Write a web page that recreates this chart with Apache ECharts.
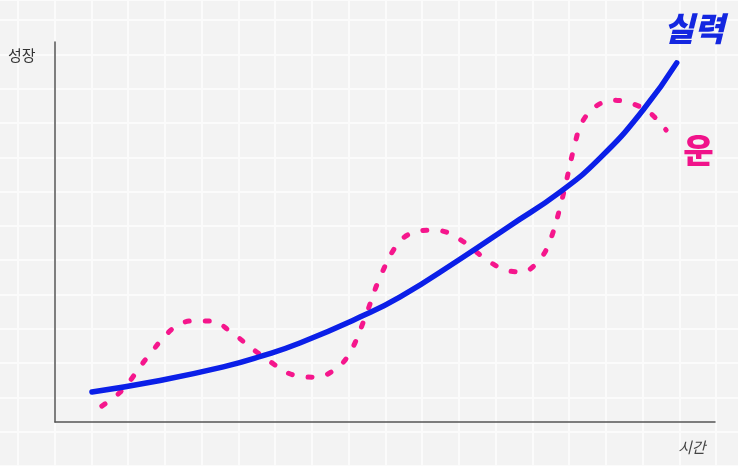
<!DOCTYPE html>
<html>
<head>
<meta charset="utf-8">
<script src="https://cdn.jsdelivr.net/npm/echarts@6/dist/echarts.min.js"></script>
<style>
html,body{margin:0;padding:0;background:#f3f3f3;}
#c{width:738px;height:466px;}
</style>
</head>
<body>
<div id="c"></div>
<script>
// Skill (실력): smooth exponential-like growth
var skillX = [5.6, 15.5, 25.5, 31.4, 37.1, 46.2, 52.3, 61.4, 68.9, 76.5, 82.6, 89.1, 94.2];
var skillY = [7.9, 10.8, 14.5, 17.4, 20.8, 27.6, 32.9, 42.9, 51.6, 60.5, 69.5, 82.1, 94.5];
// Luck (운): oscillating around skill
var luckX = [7.1, 10.2, 13.8, 17.9, 20.8, 23.8, 26.5, 31.4, 36.7, 39.7, 42.7, 44.7, 47.0, 49.2, 52.0, 54.5, 57.6, 60.6, 65.5, 68.2, 70.9, 73.5, 75.0, 76.8, 78.8, 79.8, 81.8, 84.5, 87.6, 90.2, 92.6];
var luckY = [4.2, 8.4, 16.6, 24.7, 26.6, 26.6, 23.9, 17.4, 12.1, 11.8, 14.2, 18.2, 27.6, 37.9, 47.1, 50.0, 50.5, 48.9, 42.6, 40.0, 39.5, 42.9, 47.6, 58.4, 73.4, 78.7, 82.9, 84.7, 83.7, 81.3, 76.8];
var xName = '시간';
var yName = '성장';
var skillName = '실력';
var luckName = '운';

function pairs(xs, ys){ return xs.map(function(x,i){ return [x, ys[i]]; }); }

var hidden = {axisLine:{show:false}, axisTick:{show:false}, axisLabel:{show:false}, splitLine:{show:false}};
function paperAxis(gi, max, show){
  return {gridIndex: gi, type:'value', min:0, max:max, interval:1, silent:true,
    axisLine:{show:false}, axisTick:{show:false}, axisLabel:{show:false},
    splitLine:{show:show, lineStyle:{color:'#fbfbfb', width:2}}};
}

var chart = echarts.init(document.getElementById('c'), null, {renderer:'canvas'});
chart.setOption({
  backgroundColor: '#f3f3f3',
  animation: false,
  textStyle: {fontFamily: '"Noto Sans CJK KR", "Noto Sans", sans-serif'},
  grid: [
    {left: 0, right: 0, top: 0, bottom: 0, show: false},
    {left: 18, width: 698, top: 0, bottom: 0, show: false},
    {left: 55, right: 23, top: 42, bottom: 44, show: false}
  ],
  xAxis: [
    paperAxis(0, 1, false),
    paperAxis(1, 19, true),
    Object.assign({gridIndex: 2, type: 'value', min: 0, max: 100}, hidden,
      {axisLine:{show:true, onZero:false, lineStyle:{color:'#555', width:1.5}}})
  ],
  yAxis: [
    paperAxis(0, 13.586, true),
    paperAxis(1, 1, false),
    Object.assign({gridIndex: 2, type: 'value', min: 0, max: 100}, hidden,
      {axisLine:{show:true, onZero:false, lineStyle:{color:'#555', width:1.5}}})
  ],
  graphic: [
    {type:'text', left: 8, top: 48, z: 100, style:{text: yName, fill:'#333', fontSize: 15,
      fontFamily:'"Noto Sans CJK KR", sans-serif'}},
    {type:'text', left: 678, top: 440, z: 100, style:{text: xName, fill:'#444', fontSize: 15,
      fontStyle:'italic', fontFamily:'"Noto Sans CJK KR", sans-serif'}}
  ],
  series: [
    {
      name: luckName, type: 'line', xAxisIndex: 2, yAxisIndex: 2,
      data: pairs(luckX, luckY), smooth: 0.35, symbol: 'none',
      lineStyle: {color:'#f5168c', width: 5, type:[4,16], cap:'round'},
      endLabel: {show: true, formatter: luckName, color:'#f0128a', fontSize: 33, fontWeight: 900,
                 offset: [9, 20]}
    },
    {
      name: skillName, type: 'line', xAxisIndex: 2, yAxisIndex: 2,
      data: pairs(skillX, skillY), smooth: 0.5, symbol: 'none',
      lineStyle: {color:'#0b1fe8', width: 5.5, cap:'round'},
      endLabel: {show: true, formatter: skillName, color:'#1427e0', fontSize: 33, fontWeight: 900,
                 fontStyle: 'italic', offset: [-21, -34]}
    }
  ]
});
</script>
</body>
</html>
